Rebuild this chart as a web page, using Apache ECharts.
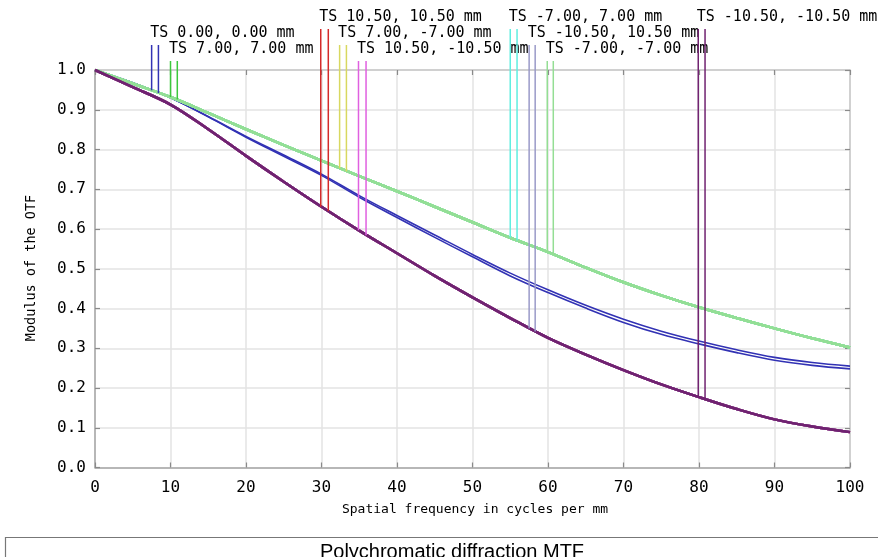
<!DOCTYPE html>
<html>
<head>
<meta charset="utf-8">
<script src="https://cdn.jsdelivr.net/npm/echarts@6/dist/echarts.min.js"></script>
<style>
  html, body { margin: 0; padding: 0; background: #fff; }
  #chart { width: 878px; height: 557px; }
</style>
</head>
<body>
<div id="chart"></div>
<script>
// Spatial frequency samples (cycles per mm)
const freq = [0, 5, 10, 15, 20, 25, 30, 35, 40, 45, 50, 55, 60, 65, 70, 75, 80, 85, 90, 95, 100];

// MTF of the on-axis field, tangential and sagittal
const mtfCenterT = [1.000, 0.968, 0.930, 0.883, 0.833, 0.786, 0.738, 0.684, 0.634, 0.585, 0.536, 0.489, 0.447, 0.408, 0.373, 0.343, 0.318, 0.296, 0.277, 0.264, 0.255];
const mtfCenterS = [1.000, 0.968, 0.930, 0.882, 0.831, 0.783, 0.735, 0.680, 0.629, 0.579, 0.530, 0.482, 0.440, 0.401, 0.365, 0.335, 0.311, 0.289, 0.270, 0.257, 0.248];
// MTF of the 7 mm fields (T and S coincide)
const mtf7mm = [1.000, 0.966, 0.932, 0.892, 0.851, 0.811, 0.772, 0.733, 0.695, 0.656, 0.617, 0.578, 0.542, 0.503, 0.466, 0.433, 0.403, 0.376, 0.350, 0.325, 0.302];
// MTF of the 10.5 mm fields (T and S coincide)
const mtf10mm = [1.000, 0.957, 0.913, 0.851, 0.784, 0.719, 0.656, 0.596, 0.539, 0.482, 0.428, 0.376, 0.326, 0.284, 0.245, 0.209, 0.177, 0.147, 0.121, 0.103, 0.089];

// Field labels
const fieldLabels = [
  'TS 0.00, 0.00 mm', 'TS 7.00, 7.00 mm', 'TS 10.50, 10.50 mm',
  'TS 7.00, -7.00 mm', 'TS 10.50, -10.50 mm', 'TS -7.00, 7.00 mm',
  'TS -10.50, 10.50 mm', 'TS -7.00, -7.00 mm', 'TS -10.50, -10.50 mm'
];
// Field marker frequencies (T and S) and the MTF where each marker meets its curve
const markerFreqT = [7.5, 10.0, 29.9, 32.4, 34.9, 55.0, 57.5, 59.9, 79.9];
const markerFreqS = [8.4, 10.9, 30.9, 33.3, 35.9, 55.9, 58.3, 60.7, 80.8];
const markerMtfT = [0.949, 0.932, 0.656, 0.753, 0.597, 0.578, 0.350, 0.543, 0.178];
const markerMtfS = [0.942, 0.926, 0.645, 0.745, 0.584, 0.571, 0.342, 0.537, 0.172];

// Tick values
const xTicks = [0, 10, 20, 30, 40, 50, 60, 70, 80, 90, 100];
const yTicks = [0.0, 0.1, 0.2, 0.3, 0.4, 0.5, 0.6, 0.7, 0.8, 0.9, 1.0];

// Curve data for each field: [tangential, sagittal]
const fieldCurves = [
  [mtfCenterT, mtfCenterS], [mtf7mm, mtf7mm], [mtf10mm, mtf10mm],
  [mtf7mm, mtf7mm], [mtf10mm, mtf10mm], [mtf7mm, mtf7mm],
  [mtf10mm, mtf10mm], [mtf7mm, mtf7mm], [mtf10mm, mtf10mm]
];

// Styling
const fieldColors = ['#3232b4', '#3cc83c', '#d42a2a', '#d8d860', '#e060e0', '#60eee0', '#9a9ac8', '#94de94', '#702270'];
const labelRow = [1, 2, 0, 1, 2, 0, 1, 2, 0];
const rowTextY = [17, 33, 49];
const rowLineTop = [29, 45, 61];
const MONO = "'DejaVu Sans Mono', monospace";

const chart = echarts.init(document.getElementById('chart'), null, { renderer: 'canvas' });

const series = [];
fieldCurves.forEach((pair, fi) => {
  pair.forEach((curve) => {
    series.push({
      type: 'line',
      xAxisIndex: 0,
      yAxisIndex: 0,
      data: freq.map((f, i) => [f, curve[i]]),
      smooth: 0.35,
      showSymbol: false,
      silent: true,
      lineStyle: { color: fieldColors[fi], width: fi === 0 ? 1.6 : 2.5 },
      z: 3
    });
  });
});

// Field markers and labels
series.push({
  type: 'custom',
  xAxisIndex: 0,
  yAxisIndex: 0,
  clip: false,
  silent: true,
  z: 5,
  data: fieldLabels.map((_, i) => [markerFreqT[i], markerMtfT[i], markerFreqS[i], markerMtfS[i], i]),
  renderItem: function (params, api) {
    const fi = api.value(4);
    const pT = api.coord([api.value(0), api.value(1)]);
    const pS = api.coord([api.value(2), api.value(3)]);
    const row = labelRow[fi];
    const top = rowLineTop[row];
    const color = fieldColors[fi];
    return {
      type: 'group',
      children: [
        { type: 'line', shape: { x1: pT[0], y1: top, x2: pT[0], y2: pT[1] }, style: { stroke: color, lineWidth: 1.5 } },
        { type: 'line', shape: { x1: pS[0], y1: top, x2: pS[0], y2: pS[1] }, style: { stroke: color, lineWidth: 1.5 } },
        {
          type: 'text',
          x: pT[0] - 1.5,
          y: rowTextY[row],
          style: {
            text: fieldLabels[fi],
            font: '15px ' + MONO,
            fill: '#000',
            align: 'left',
            verticalAlign: 'middle'
          }
        }
      ]
    };
  }
});

const option = {
  animation: false,
  backgroundColor: '#fff',
  grid: { left: 95, top: 70, width: 755, height: 397.5, containLabel: false },
  xAxis: [
    {
      type: 'value', min: 0, max: 100, interval: 10,
      axisLine: { show: true, lineStyle: { color: '#a6a6a6', width: 1.5 } },
      axisTick: { show: true, inside: true, length: 5, lineStyle: { color: '#8a8a8a', width: 1.2 } },
      axisLabel: {
        margin: 12, fontSize: 16, fontFamily: MONO, color: '#000',
        customValues: xTicks, formatter: (v) => String(v)
      },
      splitLine: { show: true, lineStyle: { color: '#e3e3e3', width: 1.5 } }
    },
    {
      type: 'value', min: 0, max: 100, interval: 10, position: 'top',
      axisLine: { show: true, onZero: false, lineStyle: { color: '#c8c8c8', width: 1.5 } },
      axisTick: { show: true, inside: true, length: 5, lineStyle: { color: '#8a8a8a', width: 1.2 } },
      axisLabel: { show: false },
      splitLine: { show: false }
    }
  ],
  yAxis: [
    {
      type: 'value', min: 0, max: 1, interval: 0.1,
      axisLine: { show: true, lineStyle: { color: '#a6a6a6', width: 1.5 } },
      axisTick: { show: true, inside: true, length: 5, lineStyle: { color: '#8a8a8a', width: 1.2 } },
      axisLabel: {
        margin: 9, fontSize: 16, fontFamily: MONO, color: '#000',
        customValues: yTicks, formatter: (v) => v.toFixed(1)
      },
      splitLine: { show: true, lineStyle: { color: '#e3e3e3', width: 1.5 } }
    },
    {
      type: 'value', min: 0, max: 1, interval: 0.1, position: 'right',
      axisLine: { show: true, onZero: false, lineStyle: { color: '#c8c8c8', width: 1.5 } },
      axisTick: { show: true, inside: true, length: 5, lineStyle: { color: '#8a8a8a', width: 1.2 } },
      axisLabel: { show: false },
      splitLine: { show: false }
    }
  ],
  graphic: [
    {
      type: 'text', x: 475, y: 510,
      style: { text: 'Spatial frequency in cycles per mm', font: '13px ' + MONO, fill: '#000', align: 'center', verticalAlign: 'middle' }
    },
    {
      type: 'text', x: 31, y: 268, rotation: Math.PI / 2,
      style: { text: 'Modulus of the OTF', font: '13.5px ' + MONO, fill: '#000', align: 'center', verticalAlign: 'middle' }
    },
    {
      type: 'rect', shape: { x: 5.5, y: 537.5, width: 900, height: 40 },
      style: { fill: '#fff', stroke: '#777', lineWidth: 1.2 }
    },
    {
      type: 'text', x: 452, y: 552,
      style: { text: 'Polychromatic diffraction MTF', font: "20px 'Liberation Sans', Arial, sans-serif", fill: '#000', align: 'center', verticalAlign: 'middle' }
    }
  ],
  series: series
};

chart.setOption(option);
</script>
</body>
</html>
